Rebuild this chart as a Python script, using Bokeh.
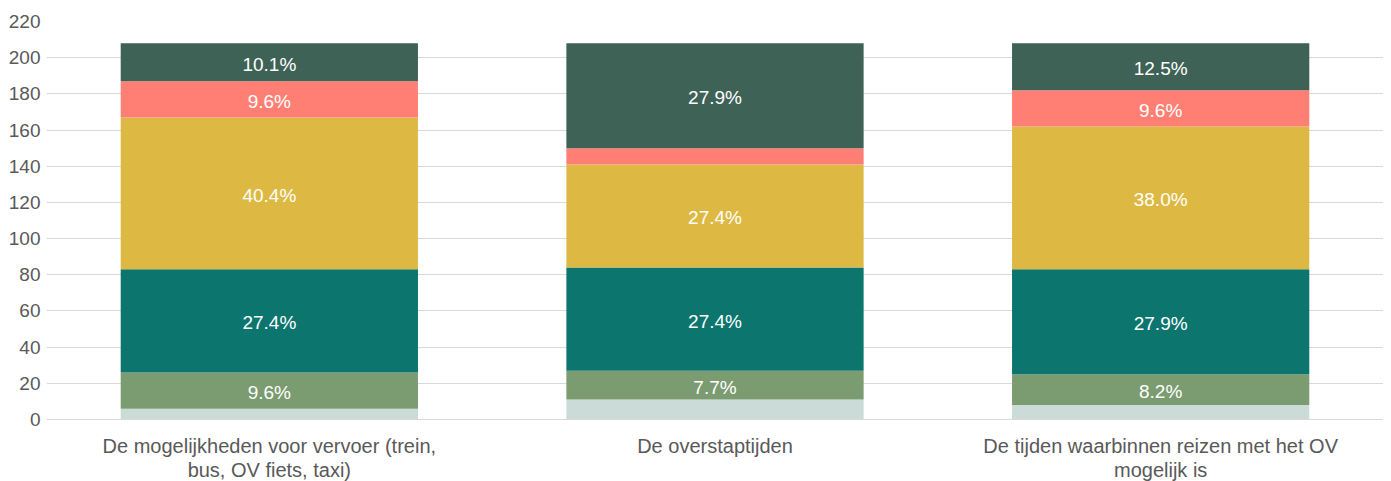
from bokeh.plotting import figure
from bokeh.models import ColumnDataSource, FactorRange, Range1d, FixedTicker
from bokeh.core.properties import value
from bokeh.embed import file_html
from bokeh.resources import INLINE

categories = [
    "De mogelijkheden voor vervoer (trein,\nbus, OV fiets, taxi)",
    "De overstaptijden",
    "De tijden waarbinnen reizen met het OV\nmogelijk is",
]
series_names = ["s1", "s2", "s3", "s4", "s5", "s6"]
s1 = [6, 11, 8]
s2 = [20, 16, 17]
s3 = [57, 57, 58]
s4 = [84, 57, 79]
s5 = [20, 9, 20]
s6 = [21, 58, 26]
colors = ["#cbdbd7", "#7b9b70", "#0b756e", "#ddb944", "#ff7f74", "#3f6257"]
y_ticks = list(range(0, 221, 20))

series = [s1, s2, s3, s4, s5, s6]
data = {"cat": categories}
for n, s in zip(series_names, series):
    data[n] = s
src = ColumnDataSource(data)

FONT = "Liberation Sans"

p = figure(
    x_range=FactorRange(*categories),
    y_range=Range1d(0, 220),
    frame_width=1337, frame_height=398,
    output_backend="svg", toolbar_location=None,
    min_border_left=46, min_border_right=0, min_border_top=21, min_border_bottom=0,
)
p.outline_line_color = None
p.vbar_stack(series_names, x="cat", width=0.667, source=src, color=colors, line_color=None)

# data labels
totals = [sum(v) for v in zip(*series)]
lx, ly, lt = [], [], []
for i, cat in enumerate(categories):
    base = 0
    for s in series:
        v = s[i]
        pct = v / totals[i] * 100
        if pct >= 6:
            lx.append(cat)
            ly.append(base + v / 2)
            lt.append(f"{pct:.1f}%")
        base += v
p.text(x=lx, y=ly, text=lt, text_color="white", text_align="center", text_baseline="middle",
       y_offset=2, text_font=value(FONT), text_font_size="19px")

p.yaxis.ticker = FixedTicker(ticks=y_ticks)
p.yaxis.axis_line_color = None
p.yaxis.major_tick_line_color = None
p.yaxis.minor_tick_line_color = None
p.yaxis.major_tick_out = 0
p.yaxis.major_tick_in = 0
p.yaxis.major_label_standoff = 6
p.yaxis.major_label_text_font = FONT
p.yaxis.major_label_text_font_size = "19px"
p.yaxis.major_label_text_color = "#595959"

p.xaxis.axis_line_color = "#d9d9d9"
p.xaxis.major_tick_line_color = None
p.xaxis.minor_tick_line_color = None
p.xaxis.major_tick_out = 0
p.xaxis.major_tick_in = 0
p.xaxis.major_label_standoff = 15
p.xaxis.major_label_text_font = FONT
p.xaxis.major_label_text_font_size = "20px"
p.xaxis.major_label_text_line_height = 1.1
p.xaxis.major_label_text_color = "#595959"
p.xaxis.major_label_orientation = "horizontal"

p.xgrid.grid_line_color = None
p.ygrid.grid_line_color = "#d9d9d9"
p.ygrid.ticker = FixedTicker(ticks=y_ticks)

open("out.html", "w").write(file_html(p, INLINE))
